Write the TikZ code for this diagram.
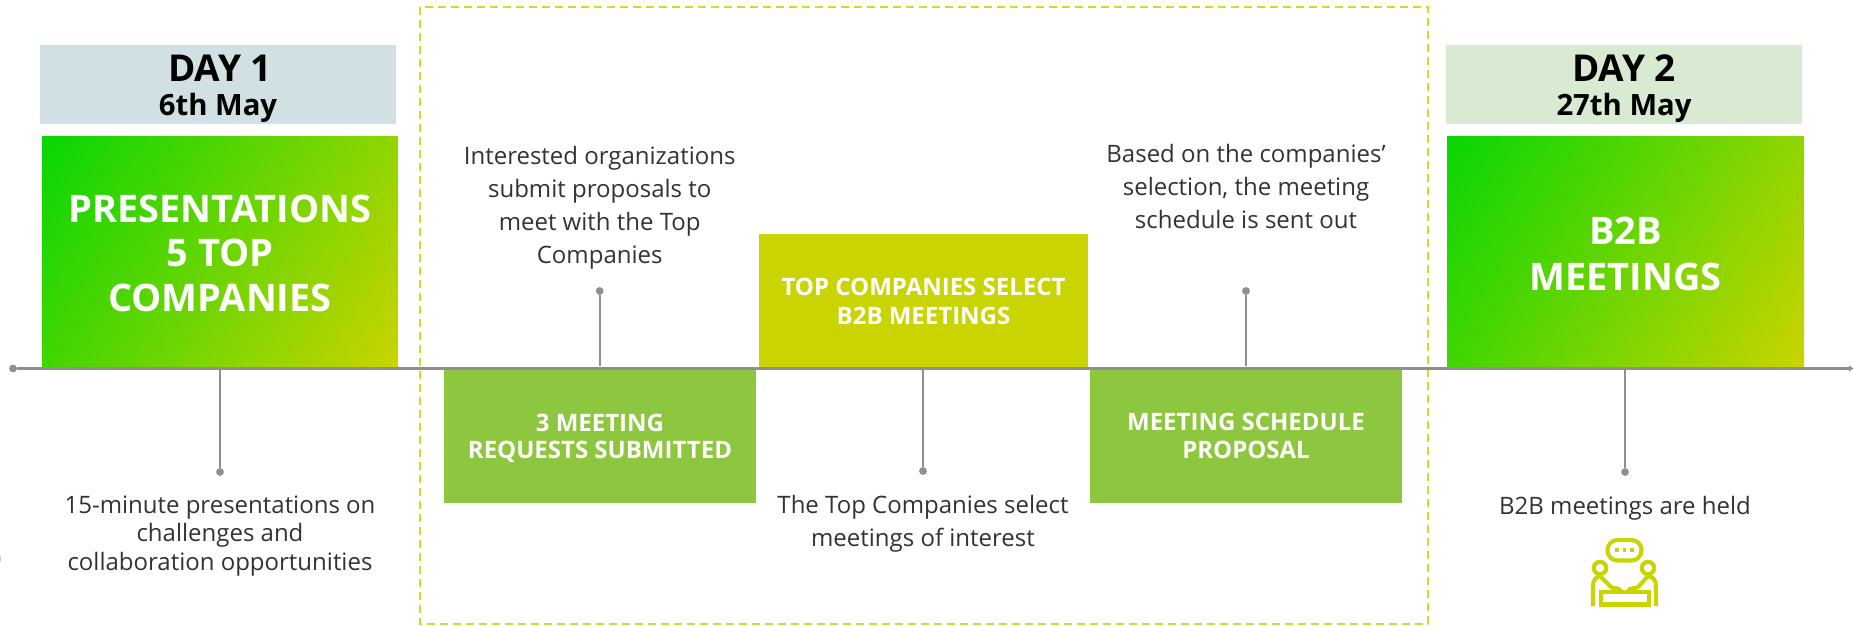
\documentclass[tikz,border=0pt]{standalone}
\usepackage{fontspec}
\usetikzlibrary{arrows.meta}
\setmainfont{Open Sans}
\definecolor{axisg}{HTML}{8F8F8F}
\definecolor{olive}{HTML}{CAD400}
\definecolor{leaf}{HTML}{8DC63F}
\definecolor{gstart}{HTML}{08D604}
\definecolor{txt}{HTML}{333333}
\definecolor{dayone}{HTML}{D1E0E3}
\definecolor{daytwo}{HTML}{D9EAD3}
\newcommand{\lowered}[2]{\raisebox{-#1pt}[\height][\depth]{#2}}
\pgfdeclarehorizontalshading{diagg}{100bp}{color(0bp)=(gstart); color(15.4bp)=(gstart); color(84.6bp)=(olive); color(100bp)=(olive)}
\tikzset{
  x=1pt,y=-1pt,
  daybox/.style={inner sep=0pt,align=center,text=black,font=\fontsize{29.3}{37.8}\selectfont\bfseries},
  gradbox/.style={inner sep=0pt,align=center,text=white,shade,shading=diagg,shading angle=-33,
     font=\fontsize{38}{44.8}\selectfont\bfseries},
  stepbox/.style={inner sep=0pt,align=center,text=white,font=\fontsize{24}{28.4}\selectfont\bfseries},
  body/.style={inner sep=0pt,align=center,text=txt,font=\fontsize{24}{28.5}\selectfont},
  bodywide/.style={body,font=\fontsize{24}{33}\selectfont},
  conn/.style={draw=axisg,line width=1.7pt},
  axisline/.style={draw=axisg,line width=2.1pt},
  tipdot/.style={circle,fill=axisg,inner sep=0pt,minimum size=7.8pt},
  icon/.style={draw=olive,line width=4.1pt},
}
\begin{document}
\begin{tikzpicture}
\useasboundingbox (0,0) rectangle (1854,626);
\fill[white] (0,0) rectangle (1854,626);
\draw[olive!85!white,line width=1.4pt,dash pattern=on 8pt off 5pt] (420,7) rectangle (1428,624);

\node[daybox,fill=dayone,minimum width=356pt,minimum height=79pt] (d1) at (218,84.5) {\lowered{4.2}{\hspace*{4pt}\fontsize{37}{37.8}\selectfont DAY 1}\\[-3.2pt]\lowered{4.2}{6th May}};
\node[daybox,fill=daytwo,minimum width=356pt,minimum height=79pt] (d2) at (1624,84.5) {\lowered{4.2}{\fontsize{37}{37.8}\selectfont DAY 2}\\[-3.2pt]\lowered{4.2}{27th May}};

\node[gradbox,minimum width=356pt,minimum height=232pt] (g1) at (220,252.2) {\lowered{1.2}{PRESENTATIONS}\\\lowered{1.2}{5 TOP}\\\lowered{1.2}{COMPANIES}};
\node[gradbox,minimum width=357pt,minimum height=232pt] (g2) at (1625.5,252.2) {\lowered{1.2}{B2B}\\\lowered{2.4}{MEETINGS}};

\node[stepbox,fill=leaf,minimum width=312pt,minimum height=134pt] (s1) at (600,435.5) {\lowered{3.5}{3 MEETING}\\\lowered{2.4}{REQUESTS SUBMITTED}};
\node[stepbox,fill=olive,minimum width=329pt,minimum height=134pt] (s2) at (923.5,301) {TOP COMPANIES SELECT\\\lowered{1.2}{B2B MEETINGS}};
\node[stepbox,fill=leaf,minimum width=312pt,minimum height=134pt] (s3) at (1246,435.5) {\lowered{0.6}{MEETING SCHEDULE}\\\lowered{0.6}{PROPOSAL}};

% axis
\node[tipdot] (a0) at (13,368.5) {};
\node[inner sep=0pt,minimum size=0pt] (a1) at (1854,368.5) {};
\draw[axisline,-{Latex[length=5pt,width=7pt]}] (a0) -- (a1);

% connectors
\coordinate (c1) at (220,368.5);
\coordinate (c2) at (599.7,366);
\coordinate (c3) at (923,368.5);
\coordinate (c4) at (1246,366);
\coordinate (c5) at (1625,368.5);
\node[tipdot] (t1) at (220,472) {};
\node[tipdot] (t2) at (599.7,291) {};
\node[tipdot] (t3) at (923,471) {};
\node[tipdot] (t4) at (1246,291) {};
\node[tipdot] (t5) at (1625,472) {};
\foreach \p/\q in {c1/t1,c2/t2,c3/t3,c4/t4,c5/t5} \draw[conn] (\p) -- (\q);

% texts
\node[body] (b1) at (220,536) {15-minute presentations on\\challenges and\\collaboration opportunities};
\node[bodywide] (b2) at (599.7,208) {Interested organizations\\submit proposals to\\meet with the Top\\Companies};
\node[bodywide] (b3) at (923,523.5) {The Top Companies select\\meetings of interest};
\node[bodywide] (b4) at (1246,186.8) {Based on the companies’\\selection, the meeting\\schedule is sent out};
\node[body] (b5) at (1625,508) {B2B meetings are held};
\node[text=black!22,inner sep=0pt,font=\fontsize{18}{20}\selectfont] (stray) at (-3,557) {6};

% icon
\draw[icon,rounded corners=10pt] (1607.5,540) rectangle (1641.5,560.5);
\foreach \xx in {1617,1624.5,1632} \fill[olive] (\xx-1.9,548.2) rectangle (\xx+1.9,551.8);
\draw[icon] (1600,568) circle (6.2);
\draw[icon] (1648,568) circle (6.2);
\draw[icon,line join=round] (1593,606) -- (1593,586) .. controls (1593,580) and (1596,577) .. (1600,576) -- (1611,587) .. controls (1613,589) and (1619,587) .. (1621,591);
\draw[icon,line join=round] (1656,606) -- (1656,586) .. controls (1656,580) and (1653,577) .. (1648,576) -- (1638,587) .. controls (1636,589) and (1630,587) .. (1628,591);
\draw[icon] (1601,592) rectangle (1649,604.5);
\end{tikzpicture}
\end{document}
